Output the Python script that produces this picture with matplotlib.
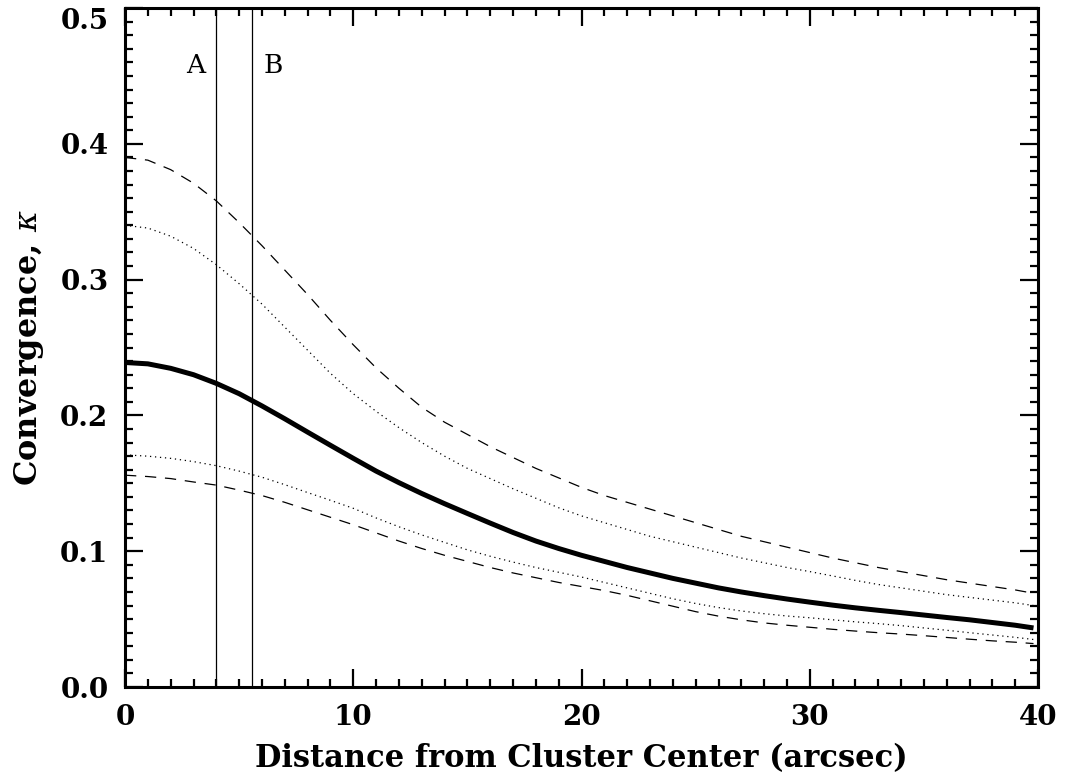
import matplotlib
matplotlib.use("Agg")
import matplotlib.pyplot as plt
from matplotlib.ticker import MultipleLocator
import numpy as np

plt.rcParams['font.family'] = ['DejaVu Serif']
plt.rcParams['mathtext.fontset'] = 'dejavuserif'

# radius (arcsec)
radius = list(range(0, 40)) + [39.8]

# best-fit convergence profile
kappaBest = [0.239, 0.238, 0.2347, 0.230, 0.2236, 0.216, 0.207, 0.1975, 0.1877, 0.178,
             0.1684, 0.159, 0.1505, 0.1425, 0.135, 0.1278, 0.1207, 0.1138, 0.1075, 0.102,
             0.097, 0.0925, 0.088, 0.084, 0.080, 0.0765, 0.073, 0.070, 0.0673, 0.0648,
             0.0625, 0.0603, 0.0583, 0.0565, 0.0548, 0.053, 0.0512, 0.0495, 0.0475, 0.0455,
             0.0435]
# outer (dashed) bounds
kappaUpperDash = [0.390, 0.388, 0.381, 0.371, 0.358, 0.342, 0.325, 0.307, 0.289, 0.270,
                  0.252, 0.235, 0.220, 0.206, 0.195, 0.186, 0.177, 0.169, 0.161, 0.154,
                  0.147, 0.141, 0.136, 0.131, 0.126, 0.121, 0.116, 0.111, 0.107, 0.103,
                  0.099, 0.095, 0.0915, 0.088, 0.085, 0.082, 0.079, 0.0765, 0.074, 0.0715,
                  0.069]
kappaLowerDash = [0.156, 0.155, 0.1535, 0.151, 0.1487, 0.145, 0.141, 0.136, 0.1305, 0.125,
                  0.1195, 0.1135, 0.1075, 0.102, 0.097, 0.0925, 0.088, 0.084, 0.0805, 0.077,
                  0.074, 0.071, 0.0675, 0.0635, 0.0595, 0.0555, 0.0522, 0.0495, 0.0472, 0.0455,
                  0.044, 0.0425, 0.0412, 0.040, 0.039, 0.0378, 0.0365, 0.0352, 0.034, 0.033,
                  0.032]
# inner (dotted) bounds
kappaUpperDot = [0.340, 0.338, 0.332, 0.323, 0.311, 0.297, 0.282, 0.265, 0.248, 0.231,
                 0.216, 0.203, 0.191, 0.180, 0.170, 0.161, 0.1535, 0.146, 0.139, 0.132,
                 0.126, 0.121, 0.116, 0.111, 0.107, 0.103, 0.099, 0.095, 0.0915, 0.088,
                 0.085, 0.0818, 0.0785, 0.0755, 0.073, 0.0705, 0.068, 0.066, 0.064, 0.062,
                 0.060]
kappaLowerDot = [0.171, 0.170, 0.1684, 0.166, 0.163, 0.159, 0.1545, 0.149, 0.1432, 0.1375,
                 0.1316, 0.1245, 0.118, 0.112, 0.1065, 0.101, 0.0963, 0.092, 0.088, 0.0845,
                 0.081, 0.077, 0.073, 0.069, 0.065, 0.0615, 0.0585, 0.056, 0.054, 0.0523,
                 0.051, 0.0495, 0.048, 0.0467, 0.0452, 0.0435, 0.0418, 0.040, 0.0383, 0.0366,
                 0.035]

# image positions
markerNames = ["A", "B"]
markerRadius = [4.0, 5.55]
markerLabelX = [3.1, 6.5]
markerLabelY = 0.458

yTicks = [0.0, 0.1, 0.2, 0.3, 0.4, 0.5]

fig = plt.figure(figsize=(10.66, 7.84), dpi=100)
ax = fig.add_axes([0.1173, 0.1237, 0.8565, 0.866])

ax.plot(radius, kappaUpperDash, color="black", lw=0.9, dashes=(9, 7))
ax.plot(radius, kappaUpperDot, color="black", lw=0.9, dashes=(1, 3))
ax.plot(radius, kappaLowerDot, color="black", lw=0.9, dashes=(1, 3))
ax.plot(radius, kappaLowerDash, color="black", lw=0.9, dashes=(9, 7))
ax.plot(radius, kappaBest, color="black", lw=3.6, solid_capstyle="butt")

for name, r, lx in zip(markerNames, markerRadius, markerLabelX):
    ax.axvline(r, color="black", lw=0.9)
    ax.text(lx, markerLabelY, name, fontsize=19, ha="center", va="center")

ax.set_xlim(0, 40)
ax.set_ylim(0, 0.5)
ax.xaxis.set_major_locator(MultipleLocator(10))
ax.xaxis.set_minor_locator(MultipleLocator(1))
ax.set_yticks(yTicks)
ax.yaxis.set_minor_locator(MultipleLocator(0.01))
ax.yaxis.set_major_formatter(lambda v, p: f"{v:.1f}")

ax.tick_params(which="both", direction="in", top=True, right=True, width=1.6)
ax.tick_params(which="major", length=13, labelsize=20, pad=12)
ax.tick_params(which="minor", length=6)
for lbl in ax.get_xticklabels() + ax.get_yticklabels():
    lbl.set_fontweight("bold")
# top label sits below its tick, as in the original
ax.yaxis.get_major_ticks()[-1].label1.set_va("top")
for sp in ax.spines.values():
    sp.set_linewidth(2.2)

ax.set_xlabel("Distance from Cluster Center (arcsec)", fontsize=22, fontweight="bold", labelpad=9)
ax.set_ylabel(r"Convergence, $\kappa$", fontsize=23, fontweight="bold", labelpad=10)

fig.savefig("out.png", dpi=100)
